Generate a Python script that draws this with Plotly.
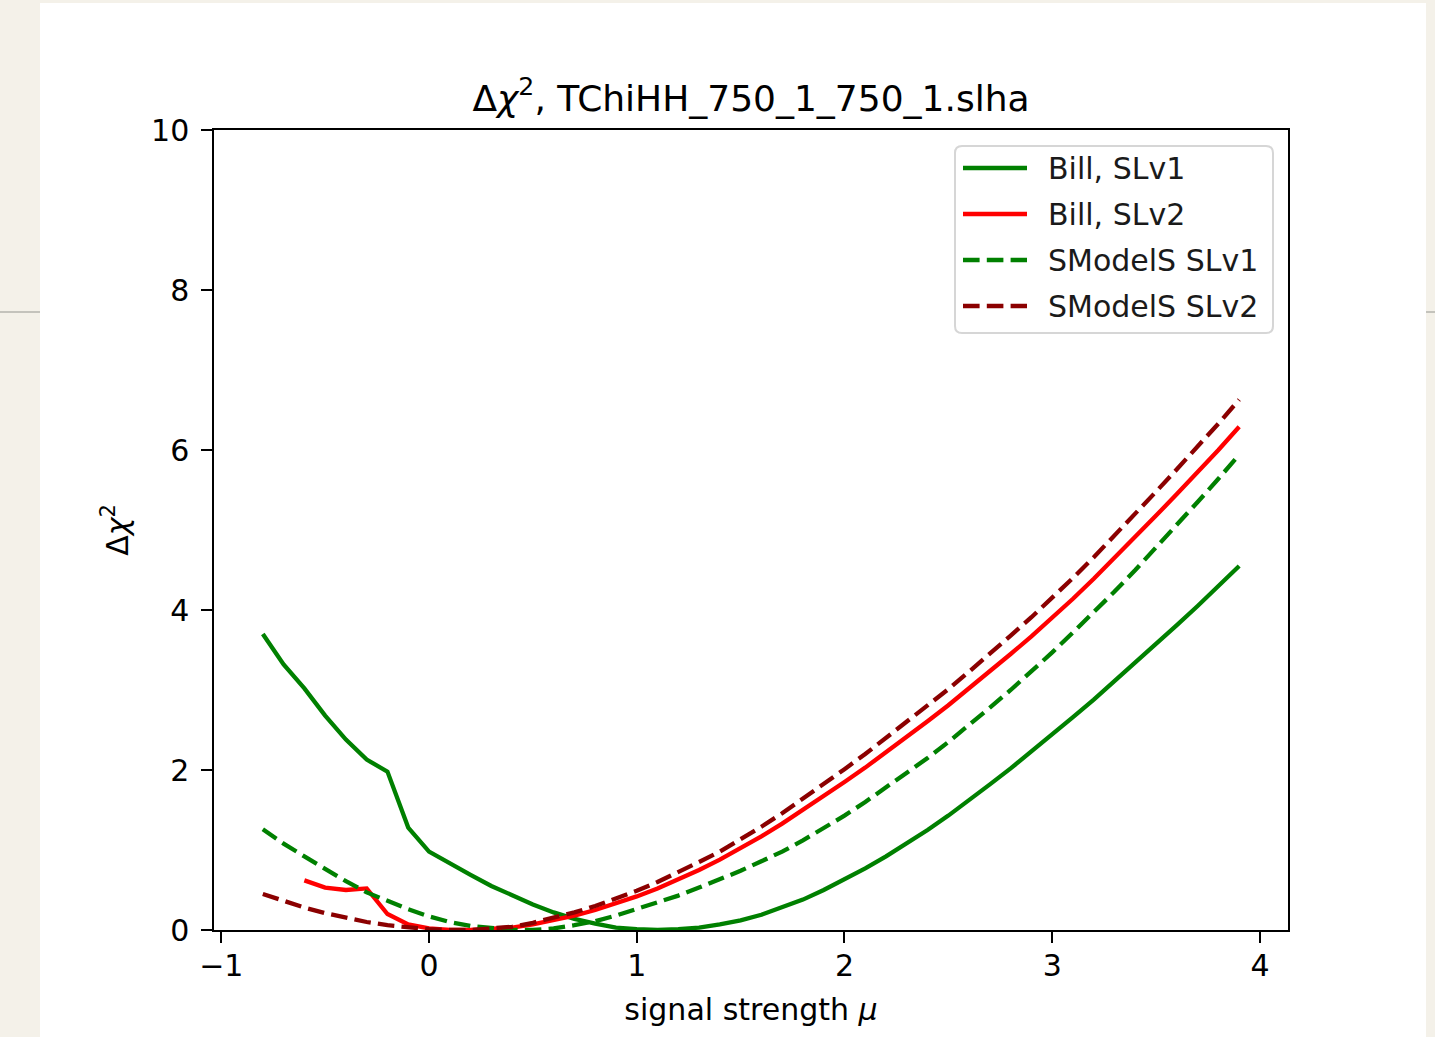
import plotly.graph_objects as go

# ---------------- data ----------------
mu = [-0.8, -0.7, -0.6, -0.5, -0.4, -0.3, -0.2, -0.1, 0.0, 0.1, 0.2, 0.3, 0.4, 0.5,
      0.6, 0.7, 0.8, 0.9, 1.0, 1.1, 1.2, 1.3, 1.4, 1.5, 1.6, 1.7, 1.8, 1.9, 2.0, 2.1,
      2.2, 2.3, 2.4, 2.5, 2.6, 2.7, 2.8, 2.9, 3.0, 3.1, 3.2, 3.3, 3.4, 3.5, 3.6, 3.7,
      3.8, 3.9]

bill_slv1 = [3.70, 3.32, 3.02, 2.68, 2.38, 2.13, 1.98, 1.28, 0.98, 0.83, 0.69, 0.55,
             0.43, 0.32, 0.22, 0.14, 0.08, 0.03, 0.01, 0.00, 0.01, 0.03, 0.07, 0.12,
             0.19, 0.28, 0.38, 0.50, 0.63, 0.77, 0.92, 1.08, 1.25, 1.43, 1.62, 1.82,
             2.02, 2.23, 2.44, 2.66, 2.88, 3.11, 3.34, 3.57, 3.81, 4.05, 4.30, 4.55]

mu_bill_slv2 = [-0.6, -0.5, -0.4, -0.3, -0.2, -0.1, 0.0, 0.1, 0.2, 0.3, 0.4, 0.5,
                0.6, 0.7, 0.8, 0.9, 1.0, 1.1, 1.2, 1.3, 1.4, 1.5, 1.6, 1.7, 1.8, 1.9,
                2.0, 2.1, 2.2, 2.3, 2.4, 2.5, 2.6, 2.7, 2.8, 2.9, 3.0, 3.1, 3.2, 3.3,
                3.4, 3.5, 3.6, 3.7, 3.8, 3.9]
bill_slv2 = [0.62, 0.53, 0.50, 0.52, 0.20, 0.07, 0.02, 0.00, 0.00, 0.01, 0.03, 0.07,
             0.12, 0.18, 0.25, 0.33, 0.42, 0.52, 0.63, 0.75, 0.88, 1.02, 1.17, 1.33,
             1.50, 1.67, 1.85, 2.03, 2.22, 2.41, 2.61, 2.81, 3.02, 3.23, 3.45, 3.67,
             3.90, 4.14, 4.39, 4.65, 4.91, 5.18, 5.45, 5.72, 6.00, 6.29]

smodels_slv1 = [1.26, 1.08, 0.92, 0.76, 0.61, 0.47, 0.36, 0.26, 0.17, 0.10, 0.05, 0.02,
                0.00, 0.00, 0.02, 0.06, 0.11, 0.18, 0.26, 0.34, 0.43, 0.53, 0.63, 0.74,
                0.86, 0.98, 1.12, 1.27, 1.43, 1.60, 1.78, 1.96, 2.15, 2.35, 2.56, 2.78,
                3.00, 3.23, 3.47, 3.72, 3.97, 4.23, 4.50, 4.78, 5.06, 5.35, 5.64, 5.94]

smodels_slv2 = [0.45, 0.36, 0.28, 0.21, 0.15, 0.10, 0.06, 0.03, 0.01, 0.00, 0.00, 0.02,
                0.04, 0.09, 0.15, 0.22, 0.30, 0.39, 0.49, 0.60, 0.72, 0.85, 0.98, 1.13,
                1.29, 1.46, 1.64, 1.82, 2.01, 2.20, 2.40, 2.60, 2.80, 3.01, 3.23, 3.45,
                3.68, 3.91, 4.15, 4.40, 4.66, 4.93, 5.20, 5.48, 5.76, 6.04, 6.33, 6.63]

x_ticks = [-1, 0, 1, 2, 3, 4]
y_ticks = [0, 2, 4, 6, 8, 10]

series_names = ["Bill, SLv1", "Bill, SLv2", "SModelS SLv1", "SModelS SLv2"]
series_colors = ["green", "red", "green", "darkred"]
series_dash = ["solid", "solid", "16.6px,7.2px", "16.6px,7.2px"]

title_text = "Δ<i>χ</i><sup>2</sup>, TChiHH_750_1_750_1.slha"
x_title = "signal strength <i>μ</i>"
y_title = "Δ<i>χ</i><sup>2</sup>"

# ---------------- layout constants ----------------
W, H = 1435, 1037
L, R, T, B = 214, 1288, 130, 930
FONT = "DejaVu Sans"
LW = 4.3


def px(x):
    return (x - L) / (R - L)


def py(y):
    return (B - y) / (B - T)


fig = go.Figure()

xs_list = [mu, mu_bill_slv2, mu, mu]
ys_list = [bill_slv1, bill_slv2, smodels_slv1, smodels_slv2]
for xs, ys, name, col, dash in zip(xs_list, ys_list, series_names, series_colors, series_dash):
    fig.add_trace(go.Scatter(x=xs, y=ys, mode="lines", name=name,
                             line=dict(color=col, width=LW, dash=dash),
                             showlegend=False, hoverinfo="x+y+name"))

shapes = []
# white screenshot card
shapes.append(dict(type="rect", xref="paper", yref="paper", layer="below",
                   x0=px(40), x1=px(1426), y0=py(1040), y1=py(3),
                   fillcolor="white", line=dict(width=0)))
# faint horizontal rule in the background
shapes.append(dict(type="line", xref="paper", yref="paper", layer="below",
                   x0=px(0), x1=px(40), y0=py(312), y1=py(312),
                   line=dict(color="#b5b3ad", width=1.5)))
shapes.append(dict(type="line", xref="paper", yref="paper", layer="below",
                   x0=px(1426), x1=px(1435), y0=py(312), y1=py(312),
                   line=dict(color="#b5b3ad", width=1.5)))

# legend frame (rounded)
lx0, lx1, ly0, ly1, rr = 955, 1273, 146, 333, 7
rx, ry = rr / (R - L), rr / (B - T)
X0, X1, Y0, Y1 = px(lx0), px(lx1), py(ly1), py(ly0)
path = (f"M {X0 + rx},{Y0} L {X1 - rx},{Y0} Q {X1},{Y0} {X1},{Y0 + ry} "
        f"L {X1},{Y1 - ry} Q {X1},{Y1} {X1 - rx},{Y1} L {X0 + rx},{Y1} "
        f"Q {X0},{Y1} {X0},{Y1 - ry} L {X0},{Y0 + ry} Q {X0},{Y0} {X0 + rx},{Y0} Z")
shapes.append(dict(type="path", xref="paper", yref="paper", path=path,
                   fillcolor="rgba(255,255,255,0.8)", line=dict(color="#d6d6d6", width=2)))

annotations = []
row_y = [168, 214, 260, 306]
for name, col, dash, yy in zip(series_names, series_colors, series_dash, row_y):
    shapes.append(dict(type="line", xref="paper", yref="paper",
                       x0=px(963), x1=px(1027), y0=py(yy), y1=py(yy),
                       line=dict(color=col, width=LW, dash=dash)))
    annotations.append(dict(xref="paper", yref="paper", x=px(1046), y=py(yy),
                            xanchor="left", yanchor="middle", showarrow=False,
                            text=name, font=dict(family=FONT, size=30, color="#1a1a1a")))

axis_common = dict(showline=True, linecolor="black", linewidth=2.4, mirror=True,
                   ticks="outside", ticklen=10.5, tickwidth=2.4, tickcolor="black",
                   showgrid=False, zeroline=False,
                   tickfont=dict(family=FONT, size=30, color="black"))

fig.update_layout(
    width=W, height=H,
    margin=dict(l=L, r=W - R, t=T, b=H - B, autoexpand=False),
    paper_bgcolor="#f4f1e9", plot_bgcolor="white",
    shapes=shapes, annotations=annotations,
    title=dict(text=title_text, x=(L + R) / 2 / W, xanchor="center",
               y=1 - 98 / H, yanchor="middle",
               font=dict(family=FONT, size=36, color="black")),
    xaxis=dict(range=[-1.035, 4.135], tickvals=x_ticks, ticklabelstandoff=-3,
               title=dict(text=x_title, standoff=17,
                          font=dict(family=FONT, size=30, color="black")),
               **axis_common),
    yaxis=dict(range=[0, 10], tickvals=y_ticks, ticklabelstandoff=6,
               title=dict(text=y_title, standoff=14,
                          font=dict(family=FONT, size=30, color="black")),
               **axis_common),
    showlegend=False,
)

fig.write_html("out.html")
